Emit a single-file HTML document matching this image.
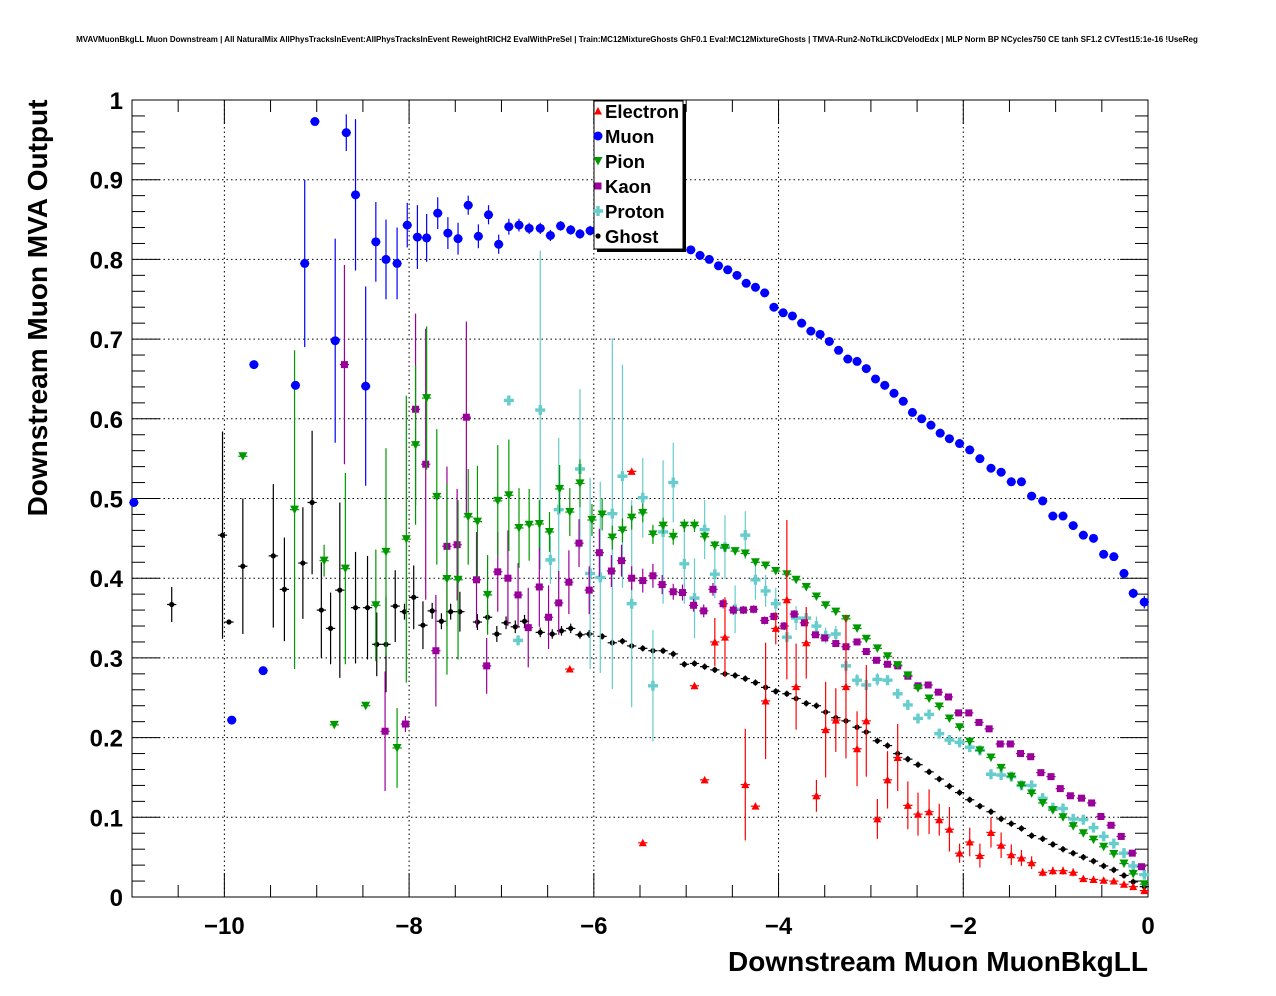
<!DOCTYPE html>
<html><head><meta charset="utf-8"><style>
html,body{margin:0;padding:0;background:#fff;}
svg{display:block;font-family:"Liberation Sans",Arial,sans-serif;}
</style></head><body>
<svg id="chart" width="1276" height="996" viewBox="0 0 1276 996" xmlns="http://www.w3.org/2000/svg">
<rect x="0" y="0" width="1276" height="996" fill="#fff"/>
<text x="637" y="42" font-size="8" font-weight="bold" text-anchor="middle">MVAVMuonBkgLL Muon Downstream | All NaturalMix AllPhysTracksInEvent:AllPhysTracksInEvent ReweightRICH2 EvalWithPreSel | Train:MC12MixtureGhosts GhF0.1 Eval:MC12MixtureGhosts | TMVA-Run2-NoTkLikCDVelodEdx | MLP Norm BP NCycles750 CE tanh SF1.2 CVTest15:1e-16 !UseReg</text>
<g id="grid"></g>
<g id="axes"></g>
<g id="series"></g>
<g id="legend"></g>
<text x="1148" y="971" font-size="28" font-weight="bold" text-anchor="end">Downstream Muon MuonBkgLL</text>
<text transform="translate(47,308) rotate(-90)" font-size="28" font-weight="bold" text-anchor="middle">Downstream Muon MVA Output</text>
</svg>
<script>
const xTicks = [-10, -8, -6, -4, -2, 0];
const xTickLabels = ["\u221210", "\u22128", "\u22126", "\u22124", "\u22122", "0"];
const yTicks = [0, 0.1, 0.2, 0.3, 0.4, 0.5, 0.6, 0.7, 0.8, 0.9, 1];
const yTickLabels = ["0", "0.1", "0.2", "0.3", "0.4", "0.5", "0.6", "0.7", "0.8", "0.9", "1"];
const seriesNames = ["Electron", "Muon", "Pion", "Kaon", "Proton", "Ghost"];

const electronX = [-6.26,-5.59,-5.47,-4.91,-4.80,-4.69,-4.58,-4.36,-4.25,-4.14,-4.03,-3.91,-3.81,-3.70,-3.59,-3.49,-3.38,-3.27,-3.15,-3.05,-2.93,-2.82,-2.71,-2.60,-2.49,-2.37,-2.26,-2.15,-2.04,-1.93,-1.82,-1.70,-1.59,-1.48,-1.37,-1.26,-1.14,-1.03,-0.92,-0.81,-0.70,-0.59,-0.48,-0.37,-0.26,-0.16,-0.04];
const electronY = [0.286,0.534,0.068,0.265,0.147,0.320,0.326,0.141,0.114,0.246,0.337,0.373,0.264,0.319,0.127,0.210,0.222,0.264,0.186,0.221,0.098,0.147,0.175,0.115,0.104,0.107,0.097,0.085,0.055,0.069,0.052,0.081,0.065,0.053,0.049,0.043,0.031,0.033,0.033,0.031,0.023,0.022,0.021,0.020,0.016,0.013,0.008];
const electronE = [0,0,0,0,0,0.03,0.05,0.07,0,0.073,0.02,0.1,0.054,0.045,0.02,0.06,0.04,0.09,0.047,0.07,0.025,0.036,0.042,0.03,0.027,0.028,0.02,0.028,0.012,0.018,0.015,0.019,0.016,0.013,0.01,0.008,0.005,0.005,0.005,0.005,0.004,0.004,0.003,0.003,0.003,0.003,0.003];

const muonX = [-10.98,-9.92,-9.68,-9.58,-9.23,-9.13,-9.02,-8.80,-8.68,-8.58,-8.47,-8.36,-8.25,-8.13,-8.02,-7.91,-7.81,-7.69,-7.58,-7.47,-7.36,-7.25,-7.14,-7.03,-6.92,-6.81,-6.70,-6.58,-6.47,-6.36,-6.25,-6.15,-6.04,-5.95,-5.85,-5.75,-5.65,-5.55,-5.45,-5.35,-5.25,-5.15,-5.05,-4.95,-4.85,-4.75,-4.65,-4.55,-4.45,-4.35,-4.25,-4.15,-4.05,-3.95,-3.85,-3.75,-3.65,-3.55,-3.45,-3.35,-3.25,-3.15,-3.05,-2.95,-2.85,-2.75,-2.65,-2.55,-2.45,-2.35,-2.25,-2.15,-2.04,-1.93,-1.82,-1.70,-1.59,-1.48,-1.37,-1.26,-1.14,-1.03,-0.92,-0.81,-0.70,-0.59,-0.48,-0.37,-0.26,-0.16,-0.04];
const muonY = [0.495,0.222,0.668,0.284,0.642,0.795,0.973,0.698,0.959,0.881,0.641,0.822,0.800,0.795,0.843,0.828,0.827,0.858,0.833,0.826,0.868,0.829,0.856,0.819,0.841,0.843,0.839,0.839,0.830,0.842,0.837,0.832,0.836,0.833,0.830,0.828,0.826,0.823,0.821,0.820,0.818,0.817,0.815,0.812,0.805,0.800,0.792,0.787,0.780,0.770,0.765,0.758,0.740,0.733,0.729,0.720,0.710,0.706,0.697,0.686,0.675,0.672,0.663,0.650,0.642,0.632,0.622,0.608,0.600,0.592,0.582,0.575,0.569,0.561,0.550,0.538,0.533,0.521,0.521,0.503,0.497,0.478,0.478,0.466,0.454,0.450,0.430,0.427,0.406,0.381,0.370];
const muonE = [0,0,0,0,0,0.105,0,0.128,0.023,0.095,0.125,0.05,0.05,0.045,0.028,0.04,0.03,0.02,0.02,0.02,0.012,0.015,0.012,0.012,0.01,0.008,0.007,0.007,0.007,0.006,0.006,0.006,0.006,0.005,0.005,0.005,0.005,0.005,0.005,0.005,0.005,0.004,0.004,0.004,0.004,0.004,0.004,0.004,0.004,0.004,0.004,0.004,0.004,0.004,0.004,0.004,0.004,0.004,0.004,0.004,0.004,0.004,0.004,0.004,0.004,0.004,0.004,0.004,0.004,0.004,0.004,0.004,0.004,0.004,0.004,0.004,0.004,0.004,0.004,0.004,0.004,0.004,0.004,0.004,0.004,0.004,0.004,0.004,0.004,0.006,0.008];

const pionX = [-9.80,-9.24,-8.92,-8.81,-8.69,-8.47,-8.36,-8.25,-8.13,-8.03,-7.93,-7.81,-7.70,-7.59,-7.47,-7.36,-7.26,-7.15,-7.04,-6.92,-6.81,-6.70,-6.59,-6.48,-6.37,-6.26,-6.15,-6.02,-5.91,-5.80,-5.69,-5.59,-5.47,-5.36,-5.25,-5.14,-5.02,-4.91,-4.80,-4.69,-4.58,-4.47,-4.36,-4.25,-4.14,-4.03,-3.91,-3.81,-3.70,-3.59,-3.49,-3.38,-3.27,-3.15,-3.05,-2.93,-2.82,-2.71,-2.60,-2.49,-2.37,-2.26,-2.15,-2.04,-1.93,-1.82,-1.70,-1.59,-1.48,-1.37,-1.26,-1.14,-1.03,-0.92,-0.81,-0.70,-0.59,-0.48,-0.37,-0.26,-0.16,-0.04];
const pionY = [0.553,0.486,0.422,0.216,0.412,0.240,0.366,0.433,0.187,0.449,0.567,0.626,0.502,0.399,0.398,0.477,0.471,0.379,0.497,0.504,0.463,0.467,0.468,0.458,0.512,0.483,0.519,0.473,0.480,0.451,0.460,0.476,0.482,0.455,0.466,0.452,0.466,0.466,0.452,0.441,0.438,0.434,0.431,0.420,0.416,0.409,0.405,0.398,0.389,0.377,0.366,0.358,0.349,0.337,0.324,0.312,0.302,0.291,0.278,0.262,0.249,0.239,0.224,0.213,0.195,0.184,0.175,0.162,0.151,0.140,0.130,0.118,0.109,0.100,0.089,0.080,0.072,0.063,0.054,0.042,0.029,0.016];
const pionE = [0,0.2,0.02,0,0.12,0,0.07,0.13,0.05,0.18,0.1,0.09,0.085,0.12,0.1,0.06,0.07,0.05,0.07,0.07,0.05,0.045,0.03,0.025,0.03,0.03,0.03,0.02,0.02,0.015,0.015,0.015,0.012,0.012,0.01,0.01,0.008,0.008,0.006,0.006,0.005,0.005,0.005,0.004,0.004,0.004,0.004,0.004,0.004,0.004,0.004,0.004,0.004,0.004,0.004,0.004,0.004,0.004,0.004,0.004,0.004,0.004,0.004,0.004,0.004,0.004,0.004,0.004,0.004,0.004,0.004,0.004,0.004,0.004,0.004,0.004,0.004,0.004,0.004,0.004,0.004,0.004];

const kaonX = [-8.70,-8.26,-8.04,-7.93,-7.82,-7.71,-7.59,-7.48,-7.38,-7.27,-7.16,-7.04,-6.93,-6.82,-6.71,-6.59,-6.49,-6.38,-6.27,-6.16,-6.05,-5.94,-5.81,-5.70,-5.59,-5.47,-5.36,-5.26,-5.14,-5.04,-4.92,-4.81,-4.71,-4.60,-4.49,-4.38,-4.27,-4.15,-4.05,-3.94,-3.83,-3.72,-3.60,-3.50,-3.38,-3.27,-3.15,-3.05,-2.94,-2.82,-2.71,-2.60,-2.49,-2.38,-2.27,-2.16,-2.05,-1.94,-1.83,-1.72,-1.60,-1.49,-1.38,-1.27,-1.16,-1.05,-0.95,-0.84,-0.72,-0.61,-0.51,-0.40,-0.29,-0.17,-0.07];
const kaonY = [0.668,0.208,0.217,0.612,0.543,0.309,0.440,0.442,0.602,0.398,0.290,0.408,0.400,0.379,0.338,0.389,0.351,0.369,0.395,0.444,0.385,0.432,0.409,0.422,0.400,0.397,0.403,0.392,0.383,0.382,0.366,0.359,0.386,0.368,0.360,0.360,0.361,0.347,0.352,0.340,0.355,0.344,0.329,0.325,0.318,0.314,0.320,0.308,0.297,0.292,0.290,0.277,0.265,0.266,0.257,0.251,0.231,0.231,0.219,0.211,0.192,0.192,0.180,0.176,0.156,0.151,0.136,0.127,0.124,0.118,0.101,0.090,0.076,0.055,0.038];
const kaonE = [0.125,0.075,0.01,0.12,0.17,0.07,0.1,0.07,0.12,0.06,0.035,0.05,0.06,0.04,0.05,0.05,0.04,0.04,0.04,0.03,0.03,0.03,0.02,0.02,0.015,0.015,0.015,0.012,0.01,0.01,0.008,0.008,0.008,0.006,0.006,0.005,0.005,0.005,0.005,0.005,0.005,0.004,0.004,0.004,0.004,0.004,0.004,0.004,0.004,0.004,0.004,0.004,0.004,0.004,0.004,0.004,0.004,0.004,0.004,0.004,0.004,0.004,0.004,0.004,0.004,0.004,0.004,0.004,0.004,0.004,0.004,0.004,0.004,0.004,0.004];

const protonX = [-6.92,-6.82,-6.58,-6.47,-6.38,-6.15,-6.04,-5.93,-5.80,-5.69,-5.59,-5.47,-5.36,-5.25,-5.14,-5.02,-4.91,-4.80,-4.69,-4.58,-4.47,-4.36,-4.25,-4.14,-4.03,-3.91,-3.81,-3.70,-3.59,-3.49,-3.38,-3.27,-3.15,-3.05,-2.93,-2.82,-2.71,-2.60,-2.49,-2.37,-2.26,-2.15,-2.04,-1.93,-1.82,-1.70,-1.59,-1.48,-1.37,-1.26,-1.14,-1.03,-0.92,-0.81,-0.70,-0.59,-0.48,-0.37,-0.26,-0.16,-0.04];
const protonY = [0.623,0.322,0.611,0.423,0.486,0.537,0.406,0.401,0.481,0.528,0.368,0.501,0.265,0.458,0.520,0.418,0.375,0.461,0.405,0.439,0.361,0.454,0.398,0.384,0.368,0.326,0.350,0.350,0.340,0.328,0.330,0.290,0.272,0.266,0.273,0.272,0.255,0.241,0.224,0.229,0.205,0.197,0.194,0.188,0.184,0.154,0.153,0.151,0.140,0.140,0.124,0.112,0.111,0.098,0.097,0.087,0.076,0.067,0.055,0.039,0.028];
const protonE = [0,0,0.2,0.03,0.09,0.1,0.12,0.12,0.22,0.14,0.13,0.05,0.07,0.09,0.05,0.05,0.05,0.037,0.03,0.04,0.03,0.03,0.025,0.02,0.02,0.015,0.015,0.012,0.012,0.01,0.01,0.01,0.008,0.008,0.008,0.006,0.006,0.006,0.005,0.005,0.005,0.005,0.005,0.005,0.005,0.005,0.005,0.005,0.005,0.005,0.005,0.005,0.005,0.005,0.005,0.005,0.005,0.005,0.005,0.005,0.005];

const ghostX = [-10.57,-10.02,-9.95,-9.80,-9.47,-9.35,-9.15,-9.05,-8.95,-8.85,-8.75,-8.58,-8.45,-8.35,-8.25,-8.15,-8.05,-7.95,-7.85,-7.75,-7.65,-7.55,-7.45,-7.26,-7.15,-7.05,-6.95,-6.85,-6.75,-6.58,-6.45,-6.35,-6.25,-6.15,-6.05,-5.91,-5.80,-5.69,-5.59,-5.47,-5.36,-5.25,-5.14,-5.02,-4.91,-4.80,-4.69,-4.58,-4.47,-4.36,-4.25,-4.14,-4.03,-3.91,-3.81,-3.70,-3.59,-3.49,-3.38,-3.27,-3.15,-3.05,-2.93,-2.82,-2.71,-2.60,-2.49,-2.37,-2.26,-2.15,-2.04,-1.93,-1.82,-1.70,-1.59,-1.48,-1.37,-1.26,-1.14,-1.03,-0.92,-0.81,-0.70,-0.59,-0.48,-0.37,-0.26,-0.16,-0.04];
const ghostY = [0.367,0.454,0.345,0.415,0.428,0.386,0.419,0.495,0.360,0.337,0.385,0.363,0.363,0.317,0.317,0.365,0.358,0.376,0.341,0.359,0.346,0.358,0.358,0.345,0.351,0.330,0.344,0.339,0.346,0.332,0.330,0.334,0.337,0.329,0.330,0.327,0.319,0.321,0.315,0.312,0.309,0.309,0.305,0.292,0.293,0.289,0.285,0.280,0.278,0.274,0.269,0.263,0.258,0.255,0.249,0.243,0.240,0.232,0.225,0.221,0.213,0.207,0.196,0.190,0.180,0.173,0.166,0.157,0.148,0.139,0.131,0.122,0.114,0.107,0.098,0.092,0.086,0.077,0.073,0.066,0.060,0.055,0.050,0.045,0.039,0.034,0.027,0.019,0.013];
const ghostE = [0.022,0.13,0,0.085,0.09,0.065,0.07,0.09,0.06,0.045,0.11,0.07,0.065,0.04,0.06,0.045,0.01,0.04,0.03,0.01,0.01,0.01,0.025,0.01,0.008,0.01,0.008,0.008,0.008,0.006,0.006,0.006,0.006,0.005,0.005,0.004,0.004,0.004,0.004,0.004,0.004,0.004,0.004,0.004,0.004,0.004,0.004,0.004,0.004,0.004,0.004,0.004,0.004,0.004,0.004,0.004,0.004,0.004,0.004,0.004,0.004,0.004,0.004,0.004,0.004,0.004,0.004,0.004,0.004,0.004,0.004,0.004,0.004,0.004,0.004,0.004,0.004,0.004,0.004,0.004,0.004,0.004,0.004,0.004,0.004,0.004,0.004,0.004,0.004];

const NS = "http://www.w3.org/2000/svg";
const L = 132, R = 1148, T = 100, B = 897;
const xMin = -11, xMax = 0, yMin = 0, yMax = 1;
function X(v){ return L + (v - xMin) / (xMax - xMin) * (R - L); }
function Y(v){ return B - (v - yMin) / (yMax - yMin) * (B - T); }
function mk(tag, attrs, parent){
  const e = document.createElementNS(NS, tag);
  for (const k in attrs) e.setAttribute(k, attrs[k]);
  parent.appendChild(e);
  return e;
}
const grid = document.getElementById('grid');
const axes = document.getElementById('axes');
const series = document.getElementById('series');
const legend = document.getElementById('legend');

xTicks.forEach(function(t){
  if (t === 0) return;
  const g = mk('line', {x1:X(t), x2:X(t), y1:T, y2:B, stroke:'#000', 'stroke-width':1, 'stroke-dasharray':'1.5,3'}, grid);
  
  
});
yTicks.forEach(function(t){
  if (t === 0 || t === 1) return;
  const g = mk('line', {x1:L, x2:R, y1:Y(t), y2:Y(t), stroke:'#000', 'stroke-width':1, 'stroke-dasharray':'1.5,3'}, grid);
  
  
});

const frame = mk('rect', {x:L, y:T, width:R-L, height:B-T, fill:'none', stroke:'#000', 'stroke-width':1}, axes);



for (let i = 0; i <= 22; i++) {
  const v = xMin + i * 0.5;
  const major = xTicks.indexOf(v) >= 0;
  const len = major ? 24 : 12;
  const a = mk('line', {x1:X(v), x2:X(v), y1:B, y2:B-len, stroke:'#000', 'stroke-width':1}, axes);
  
  
  const b = mk('line', {x1:X(v), x2:X(v), y1:T, y2:T+len, stroke:'#000', 'stroke-width':1}, axes);
  
  
}
xTicks.forEach(function(t, i){
  const tx = mk('text', {x:X(t), y:934, 'font-size':24, 'font-weight':'bold', 'text-anchor':'middle'}, axes);
  tx.textContent = xTickLabels[i];
  
  
});
for (let i = 0; i <= 50; i++) {
  const v = i * 0.02;
  const major = (i % 5 === 0);
  const len = major ? 28 : 13;
  const a = mk('line', {x1:L, x2:L+len, y1:Y(v), y2:Y(v), stroke:'#000', 'stroke-width':1}, axes);
  
  
  const b = mk('line', {x1:R, x2:R-len, y1:Y(v), y2:Y(v), stroke:'#000', 'stroke-width':1}, axes);
  
  
}
yTicks.forEach(function(t, i){
  const tx = mk('text', {x:123, y:Y(t)+9, 'font-size':24, 'font-weight':'bold', 'text-anchor':'end'}, axes);
  tx.textContent = yTickLabels[i];
  
  
});

function marker(kind, cx, cy, color, parent){
  let m;
  if (kind === 'tri-up') m = mk('polygon', {points:(cx-4)+','+(cy+3.5)+' '+(cx+4)+','+(cy+3.5)+' '+cx+','+(cy-4), fill:color}, parent);
  else if (kind === 'tri-down') m = mk('polygon', {points:(cx-4.5)+','+(cy-4)+' '+(cx+4.5)+','+(cy-4)+' '+cx+','+(cy+4.5), fill:color}, parent);
  else if (kind === 'circle') m = mk('circle', {cx:cx, cy:cy, r:4.5, fill:color}, parent);
  else if (kind === 'square') m = mk('rect', {x:cx-3.5, y:cy-3.5, width:7, height:7, fill:color}, parent);
  else if (kind === 'plus') m = mk('path', {d:'M'+(cx-5)+' '+(cy-1.7)+'h3.3v-3.3h3.4v3.3h3.3v3.4h-3.3v3.3h-3.4v-3.3h-3.3z', fill:color}, parent);
  else m = mk('circle', {cx:cx, cy:cy, r:2.6, fill:color}, parent);
  return m;
}

const defs = [
  {name:'electron', xs:electronX, ys:electronY, es:electronE, color:'#ff0000', kind:'tri-up'},
  {name:'muon', xs:muonX, ys:muonY, es:muonE, color:'#0000ff', kind:'circle'},
  {name:'pion', xs:pionX, ys:pionY, es:pionE, color:'#009900', kind:'tri-down'},
  {name:'kaon', xs:kaonX, ys:kaonY, es:kaonE, color:'#990099', kind:'square'},
  {name:'proton', xs:protonX, ys:protonY, es:protonE, color:'#66cccc', kind:'plus'},
  {name:'ghost', xs:ghostX, ys:ghostY, es:ghostE, color:'#000000', kind:'dot'}
];
const order = [5, 4, 3, 2, 0, 1];
order.forEach(function(si){
  const s = defs[si];
  const g = mk('g', {}, series);
  
  
  for (let i = 0; i < s.xs.length; i++) {
    const cx = X(s.xs[i]), cy = Y(s.ys[i]);
    const hb = mk('line', {x1:X(s.xs[i]-0.05), x2:X(s.xs[i]+0.05), y1:cy, y2:cy, stroke:s.color, 'stroke-width':1.2}, g);
    
    
    if (s.es[i] > 0) {
      const vb = mk('line', {x1:cx, x2:cx, y1:Y(Math.min(1, s.ys[i]+s.es[i])), y2:Y(Math.max(0, s.ys[i]-s.es[i])), stroke:s.color, 'stroke-width':1.2}, g);
      
      
    }
    const m = marker(s.kind, cx, cy, s.color, g);
    
    
  }
});

const shadow = mk('rect', {x:597, y:104, width:89, height:148, fill:'#000'}, legend);


const box = mk('rect', {x:594, y:101, width:89, height:148, fill:'#fff', stroke:'#000', 'stroke-width':1}, legend);


defs.forEach(function(s, i){
  const cy = 111 + i * 25;
  const m = marker(s.kind, 598, cy, s.color, legend);
  
  
  const t = mk('text', {x:605, y:cy+7, 'font-size':18.5, 'font-weight':'bold'}, legend);
  t.textContent = seriesNames[i];
  
  
});
</script>
</body></html>
